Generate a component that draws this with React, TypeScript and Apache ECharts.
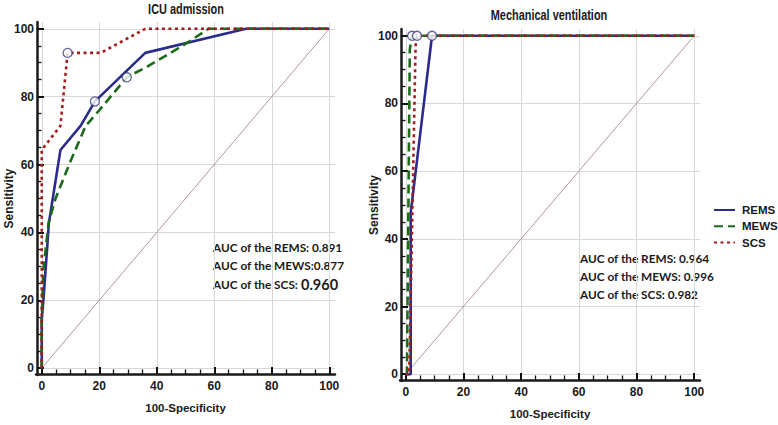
import React, { useEffect, useRef } from "react";
import * as echarts from "echarts";

const MAJOR_TICKS = [0, 20, 40, 60, 80, 100];
const MINOR_TICKS = [5, 10, 15, 25, 30, 35, 45, 50, 55, 65, 70, 75, 85, 90, 95];
const SERIES_NAMES = ["REMS", "MEWS", "SCS"];
const PANEL_TITLES = ["ICU admission", "Mechanical ventilation"];
const X_NAME = "100-Specificity";
const Y_NAME = "Sensitivity";

// ICU admission ROC points [100-Specificity, Sensitivity]
const icuREMS = [[0, 0], [0, 14.3], [0.7, 21.4], [2.5, 42.9], [6.5, 64.3], [13.5, 71.4], [18.5, 78.6], [36, 92.9], [71, 100], [100, 100]];
const icuMEWS = [[0, 0], [0, 14.3], [0.5, 28.6], [2.4, 42.9], [4.8, 50], [10, 61], [15.3, 71.4], [20, 76], [29.6, 85.7], [37, 89], [49, 95], [58, 100], [100, 100]];
const icuSCS = [[0, 0], [0, 64.3], [6.5, 71.4], [9, 92.9], [20.5, 92.9], [36, 100], [100, 100]];
const icuCutoffs = [[18.5, 78.6], [29.6, 85.7], [9, 92.9]];

// Mechanical ventilation ROC points
const mvREMS = [[0, 0], [1.7, 0], [1.7, 47.6], [9.1, 100], [100, 100]];
const mvMEWS = [[0, 0], [0.4, 0], [1.4, 96], [2.2, 100], [100, 100]];
const mvSCS = [[0, 0], [1.2, 0], [3.4, 97], [3.9, 100], [100, 100]];
const mvCutoffs = [[9.1, 100], [2.2, 100], [3.9, 100]];

const diagonal = [[0, 0], [100, 100]];
const icuAUC = ["0.891", "0.877", "0.960"];
const mvAUC = ["0.964", "0.996", "0.982"];

const AXIS_MIN = -2;
const AXIS_MAX = 102;

const SANS = "'Liberation Sans', Arial, sans-serif";
const AUCFONT = "Lato, 'Open Sans', sans-serif";
const COLORS = ["#2a2c8c", "#1d6a1d", "#a31c1c"];
const LINE_TYPES: any[] = ["solid", [9, 5], [3, 3.5]];

function App() {
  const ref = useRef<HTMLDivElement>(null);
  useEffect(() => {
    if (!ref.current) return;
    const chart = echarts.init(ref.current, null, { renderer: "svg" });

    const panelRects = [
      { left: 36, top: 22, width: 299, height: 353 },
      { left: 400, top: 29, width: 300, height: 352 },
    ];
    // grids 0,1: main panels; grids 2,3: same rectangles, carrying only the minor ticks
    const grids = [...panelRects, ...panelRects].map((r) => ({ ...r, outerBoundsMode: "none", containLabel: false }));
    const yNameGaps = [22, 21];
    const AXIS_OFFSET = -1;

    const axisLine = { show: true, onZero: false, lineStyle: { color: "#1a1a1a", width: 2.5 } };
    const clearLine = { show: true, onZero: false, lineStyle: { color: "rgba(0,0,0,0)", width: 0.5 } };
    const labelStyle = { color: "#1a1a1a", fontFamily: SANS, fontWeight: "bold" as const, fontSize: 12 };
    const xNameStyle = { color: "#1a1a1a", fontFamily: SANS, fontWeight: "bold" as const, fontSize: 11.5 };
    const yNameStyle = { color: "#1a1a1a", fontFamily: SANS, fontWeight: "bold" as const, fontSize: 12 };
    const splitLine = { show: true, lineStyle: { color: "#d8d8d8", width: 1 } };
    const majorTick = { show: true, inside: true, length: 7, customValues: MAJOR_TICKS, lineStyle: { color: "#111111", width: 2 } };
    const minorTick = { show: true, inside: true, length: 4.5, customValues: MINOR_TICKS, lineStyle: { color: "#111111", width: 1.3 } };

    const xAxis: any[] = [];
    const yAxis: any[] = [];
    [0, 1].forEach((g) => {
      xAxis.push({
        type: "value", gridIndex: g, min: AXIS_MIN, max: AXIS_MAX, position: "bottom", offset: AXIS_OFFSET,
        axisLine, axisTick: majorTick,
        axisLabel: { customValues: MAJOR_TICKS, margin: 6, ...labelStyle },
        splitLine,
        name: X_NAME, nameLocation: "middle", nameGap: 28, nameMoveOverlap: false,
        nameTextStyle: xNameStyle,
      });
      yAxis.push({
        type: "value", gridIndex: g, min: AXIS_MIN, max: AXIS_MAX, position: "left", offset: AXIS_OFFSET,
        axisLine, axisTick: majorTick,
        axisLabel: { customValues: MAJOR_TICKS, margin: 3, ...labelStyle },
        splitLine,
        name: Y_NAME, nameLocation: "middle", nameGap: yNameGaps[g], nameRotate: 90, nameMoveOverlap: false,
        nameTextStyle: yNameStyle,
      });
    });
    [2, 3].forEach((g) => {
      xAxis.push({
        type: "value", gridIndex: g, min: AXIS_MIN, max: AXIS_MAX, position: "bottom", offset: AXIS_OFFSET,
        axisLine: clearLine, axisTick: minorTick,
        axisLabel: { show: false }, splitLine: { show: false },
      });
      yAxis.push({
        type: "value", gridIndex: g, min: AXIS_MIN, max: AXIS_MAX, position: "left", offset: AXIS_OFFSET,
        axisLine: clearLine, axisTick: minorTick,
        axisLabel: { show: false }, splitLine: { show: false },
      });
    });

    const panelData = [
      { curves: [icuREMS, icuMEWS, icuSCS], cutoffs: icuCutoffs },
      { curves: [mvREMS, mvMEWS, mvSCS], cutoffs: mvCutoffs },
    ];

    const series: any[] = [];
    panelData.forEach((p, g) => {
      series.push({
        type: "line", name: "diag", xAxisIndex: g, yAxisIndex: g, data: diagonal,
        symbol: "none", silent: true, lineStyle: { color: "#b89595", width: 1 }, z: 2,
      });
      p.curves.forEach((c, i) => {
        series.push({
          type: "line", name: SERIES_NAMES[i], xAxisIndex: g, yAxisIndex: g, data: c,
          symbol: "none", color: COLORS[i],
          lineStyle: { color: COLORS[i], width: 2.6, type: LINE_TYPES[i], cap: "butt" },
          z: 3 + i,
        });
      });
      series.push({
        type: "scatter", name: "cutoff", xAxisIndex: g, yAxisIndex: g, data: p.cutoffs,
        symbol: "circle", symbolSize: 9, silent: true,
        itemStyle: { color: "#ffffff", borderColor: "#3c3f7c", borderWidth: 1.3 }, z: 10,
      });
    });

    const aucLines = (vals: string[], compactMews: boolean) => [
      `AUC of the REMS: ${vals[0]}`,
      compactMews ? `AUC of the MEWS:${vals[1]}` : `AUC of the MEWS: ${vals[1]}`,
      `AUC of the SCS: ${vals[2]}`,
    ];
    const aucStyle = { fontFamily: AUCFONT, fontWeight: "bold", fontSize: 11.8, fill: "#1a1a1a" };
    const titleStyle = { align: "center", verticalAlign: "middle", fontFamily: SANS, fontWeight: "bold", fontSize: 14, fill: "#1a1a1a" };

    const graphic: any[] = [
      { type: "text", x: 186, y: 10, scaleX: 0.78, style: { text: PANEL_TITLES[0], ...titleStyle } },
      { type: "text", x: 549, y: 16, scaleX: 0.78, style: { text: PANEL_TITLES[1], ...titleStyle } },
    ];
    const icuTexts = aucLines(icuAUC, true);
    [247, 265.5, 284].forEach((y, i) => {
      if (i < 2) {
        graphic.push({ type: "text", x: 213, y, style: { text: icuTexts[i], verticalAlign: "middle", ...aucStyle } });
      } else {
        graphic.push({
          type: "text", x: 213, y,
          style: {
            text: `{a|AUC of the SCS: }{b|${icuAUC[2]}}`, verticalAlign: "middle",
            rich: {
              a: { ...aucStyle },
              b: { fontFamily: AUCFONT, fontWeight: "bold", fontSize: 14.5, fill: "#1a1a1a" },
            },
          },
        });
      }
    });
    const mvTexts = aucLines(mvAUC, false);
    [258.5, 276, 294].forEach((y, i) => {
      graphic.push({ type: "text", x: 580, y, style: { text: mvTexts[i], verticalAlign: "middle", ...aucStyle } });
    });

    chart.setOption({
      animation: false,
      backgroundColor: "#ffffff",
      grid: grids,
      xAxis,
      yAxis,
      legend: {
        data: SERIES_NAMES, orient: "vertical", left: 713, top: 204, padding: 0,
        itemWidth: 21, itemHeight: 12, itemGap: 4.3,
        itemStyle: { opacity: 0 },
        textStyle: { color: "#1a1a1a", fontFamily: SANS, fontWeight: "bold", fontSize: 11.5, padding: [0, 0, 0, 2] },
        selectedMode: false,
      },
      series,
      graphic,
    });
    return () => chart.dispose();
  }, []);
  return <div ref={ref} style={{ position: "fixed", left: 0, top: 0, width: 778, height: 425 }} />;
}

export default App;
